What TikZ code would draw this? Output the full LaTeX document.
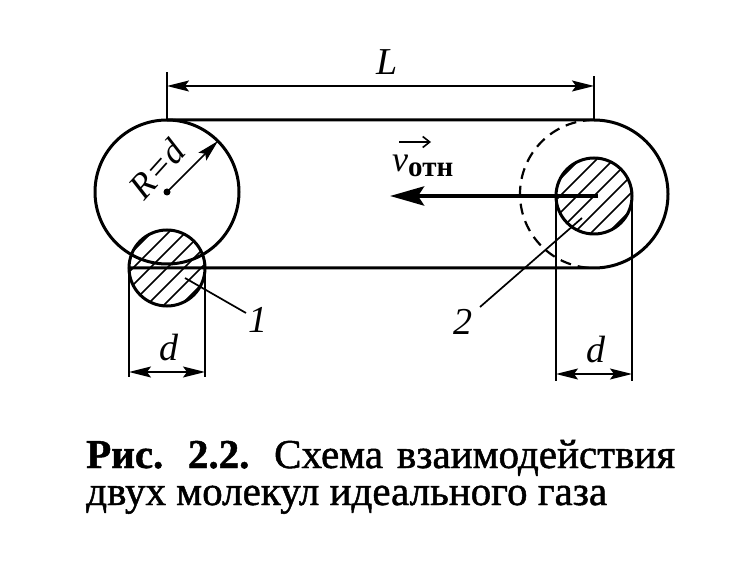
\documentclass[tikz,border=0pt]{standalone}
\usepackage{fontspec}
\setmainfont{Liberation Serif}
\newfontfamily\capfont[FakeBold=1.2]{Liberation Serif}
\usetikzlibrary{arrows.meta}
\begin{document}
\begin{tikzpicture}[x=1pt,y=1pt,
  outline/.style={line width=3pt},
  thinline/.style={line width=1.7pt},
  dimarrow/.style={line width=1.7pt,{Stealth[length=22pt,width=11pt,inset=4pt]}-{Stealth[length=22pt,width=11pt,inset=4pt]}},
  hatch/.style={line width=1.6pt},
  lbl/.style={inner sep=0pt,font=\fontsize{38}{40}\selectfont\itshape},
  captext/.style={inner sep=0pt,anchor=base west,font=\fontsize{41}{44}\selectfont\capfont}
]
\useasboundingbox (0,0) rectangle (736,584);
\fill[white] (0,0) rectangle (736,584);
% key points
\coordinate (C0) at (167,392);
\coordinate (M1) at (167,316);
\coordinate (C2) at (594,390);
\coordinate (M2) at (594,388);
% hatching of molecules
\begin{scope}
  \clip (M1) circle (38);
  \foreach \k in {-5,...,5} \draw[hatch,shift={(M1)}] (\k*17-60,-60) -- ++(120,120);
\end{scope}
\begin{scope}
  \clip (M2) circle (38);
  \foreach \k in {-5,...,5} \draw[hatch,shift={(M2)}] (\k*17-60,-60) -- ++(120,120);
\end{scope}
% big circle and molecule 1
\draw[outline] (C0) circle (72);
\draw[outline] (M1) circle (38);
% stadium
\coordinate (T1) at (167,464);
\coordinate (T2) at (594,464);
\coordinate (B1) at (129,316);
\draw[outline] (T1) -- (T2) arc (90:-90:74) -- (B1);
\draw[line width=2.2pt,dash pattern=on 11pt off 7pt] (T2) arc (90:270:74);
% molecule 2
\draw[outline] (M2) circle (38);
% radius arrow
\fill (C0) circle (3.5);
\coordinate (Rtip) at (218,443);
\draw[thinline,-{Stealth[length=22pt,width=11pt,inset=4pt]}] (C0) -- (Rtip);
\node[lbl,rotate=48,font=\fontsize{36}{38}\selectfont\itshape] (Rlab) at (157,415) {R=d};
% velocity arrow
\coordinate (Vs) at (598,388);
\coordinate (Ve) at (390,388);
\draw[line width=4.5pt,-{Stealth[length=34pt,width=19pt,inset=6pt]}] (Vs) -- (Ve);
\node[inner sep=0pt,anchor=base west] (vlab) at (392,412) {\fontsize{36}{38}\selectfont\itshape v\upshape\raisebox{-5pt}{\fontsize{29}{30}\selectfont\bfseries отн}};
\coordinate (va) at (399,442);
\coordinate (vb) at (431,442);
\draw[line width=1.6pt,-{Straight Barb[length=7pt,width=11pt]}] (va) -- (vb);
% L dimension
\coordinate (L1a) at (167,512);
\coordinate (L2a) at (594,508);
\draw[thinline] (T1) -- (L1a);
\draw[thinline] (T2) -- (L2a);
\coordinate (La) at (167,498);
\coordinate (Lb) at (594,498);
\draw[dimarrow] (La) -- (Lb);
\node[lbl] (Llab) at (387,522) {L};
% d dimension, molecule 1
\coordinate (D1a) at (129,207);
\coordinate (D1b) at (205,207);
\coordinate (D1c) at (205,316);
\draw[thinline] (B1) -- (D1a);
\draw[thinline] (D1c) -- (D1b);
\coordinate (d1l) at (129,212);
\coordinate (d1r) at (205,212);
\draw[dimarrow] (d1l) -- (d1r);
\node[lbl] (d1lab) at (169,236) {d};
% d dimension, molecule 2
\coordinate (E1a) at (556,388);
\coordinate (E1b) at (556,203);
\coordinate (E2a) at (632,388);
\coordinate (E2b) at (632,203);
\draw[thinline] (E1a) -- (E1b);
\draw[thinline] (E2a) -- (E2b);
\coordinate (d2l) at (556,210);
\coordinate (d2r) at (632,210);
\draw[dimarrow] (d2l) -- (d2r);
\node[lbl] (d2lab) at (596,234) {d};
% leaders
\coordinate (P1) at (185,306);
\coordinate (Q1) at (246,271);
\draw[thinline] (P1) -- (Q1);
\node[lbl] (n1) at (258,264) {1};
\coordinate (P2) at (582,366);
\coordinate (Q2) at (480,277);
\draw[thinline] (P2) -- (Q2);
\node[lbl] (n2) at (463,262) {2};
% caption
\node[captext] (cap1) at (86,116) {\makebox[589pt][s]{\textbf{Рис. 2.2.} Схема взаимодействия}};
\node[captext] (cap2) at (86,79) {двух молекул идеального газа};
\end{tikzpicture}
\end{document}
